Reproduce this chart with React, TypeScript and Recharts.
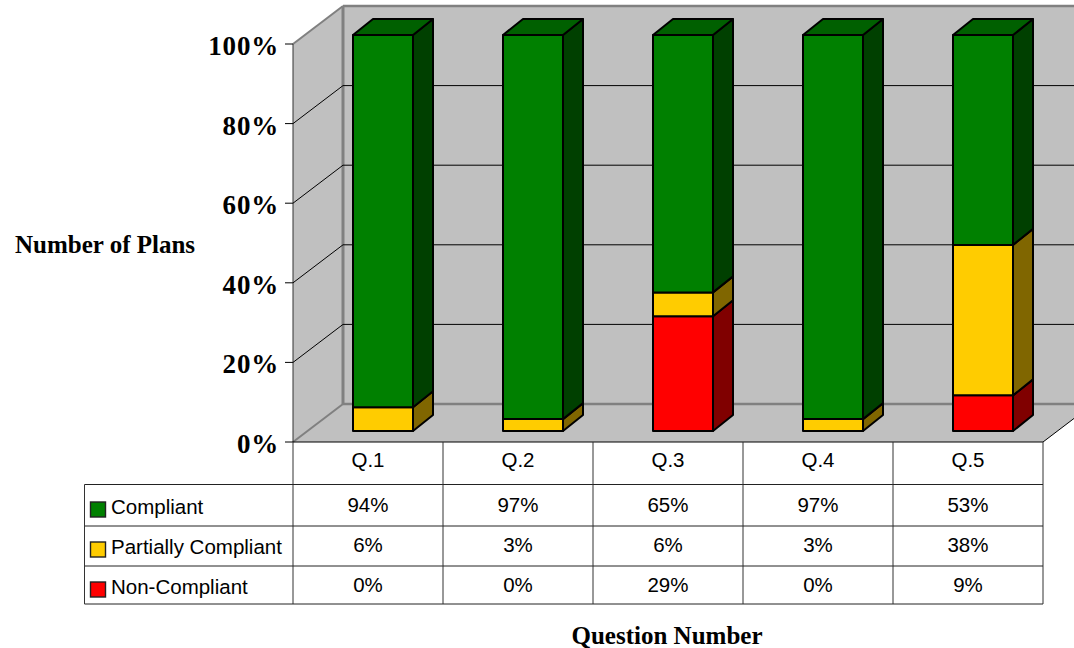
import React from "react";
import { BarChart, Bar, XAxis, YAxis, CartesianGrid } from "recharts";

const categories = ["Q.1", "Q.2", "Q.3", "Q.4", "Q.5"];
const compliant = [94, 97, 65, 97, 53];
const partial = [6, 3, 6, 3, 38];
const nonCompliant = [0, 0, 29, 0, 9];
const yTicks = [0, 20, 40, 60, 80, 100];

const rows = [
  { name: "Compliant", key: "compliant", values: compliant, color: "#008000", side: "#004000", top: "#006000" },
  { name: "Partially Compliant", key: "partial", values: partial, color: "#ffcc00", side: "#806600", top: "#bf9900" },
  { name: "Non-Compliant", key: "nonCompliant", values: nonCompliant, color: "#ff0000", side: "#800000", top: "#bf0000" },
];
const data = categories.map((q, i) => ({
  q,
  compliant: compliant[i],
  partial: partial[i],
  nonCompliant: nonCompliant[i],
}));

const W = 1074, H = 648;
const LEFT = 293, TOP = 44, PW = 750, PH = 398;
const DX = 50, DY = 38;
const BAR_DX = 15, BAR_BOTTOM = 431, BAR_SCALE = 396 / 398, BAR_DEPTH_X = 20, BAR_DEPTH_Y = 16;
const WALL = "#c0c0c0", EDGE = "#808080";
const SERIF = "'Liberation Serif', serif", SANS = "'Liberation Sans', sans-serif";

const GridLine = (p: any) => {
  const y = p.y1;
  const bottom = TOP + PH;
  const isFloor = Math.abs(y - bottom) < 1;
  const isTop = Math.abs(y - TOP) < 1;
  return (
    <g>
      {isFloor && (
        <g>
          <rect x={LEFT + DX} y={TOP - DY} width={W} height={PH} fill={WALL} />
          <polygon points={`${LEFT},${TOP} ${LEFT + DX},${TOP - DY} ${LEFT + DX},${bottom - DY} ${LEFT},${bottom}`} fill={WALL} />
          <polygon points={`${LEFT},${bottom} ${LEFT + DX},${bottom - DY} ${LEFT + PW + DX},${bottom - DY} ${LEFT + PW},${bottom}`} fill={WALL} />
          <line x1={LEFT + DX} y1={TOP - DY} x2={LEFT + DX} y2={bottom - DY} stroke={EDGE} strokeWidth={3} />
          <line x1={LEFT + DX} y1={TOP - DY} x2={W} y2={TOP - DY} stroke={EDGE} strokeWidth={2.5} />
          <line x1={LEFT + DX} y1={bottom - DY} x2={W} y2={bottom - DY} stroke={EDGE} strokeWidth={2.5} />
          <line x1={LEFT} y1={bottom} x2={LEFT + DX} y2={bottom - DY} stroke={EDGE} strokeWidth={2} />
          <line x1={LEFT} y1={TOP} x2={LEFT + DX} y2={TOP - DY} stroke={EDGE} strokeWidth={2} />
          <line x1={LEFT + PW} y1={bottom} x2={LEFT + PW + DX} y2={bottom - DY} stroke="#000" strokeWidth={1} />
          <line x1={LEFT} y1={TOP} x2={LEFT} y2={bottom} stroke="#333" strokeWidth={1} />
        </g>
      )}
      {!isFloor && !isTop && (
        <polyline points={`${LEFT},${y} ${LEFT + DX},${y - DY} ${W},${y - DY}`} fill="none" stroke="#000" strokeWidth={1} />
      )}
    </g>
  );
};

const Bar3D = (c: { color: string; side: string; top: string; hasTop: boolean }) => (p: any) => {
  if (!p.height || p.height <= 0) return <g />;
  const base = TOP + PH;
  const x = p.x + BAR_DX, w = p.width;
  const y = BAR_BOTTOM - (base - p.y) * BAR_SCALE;
  const b = BAR_BOTTOM - (base - (p.y + p.height)) * BAR_SCALE;
  const h = b - y;
  const r = x + w;
  const s = { stroke: "#000", strokeWidth: 2, strokeLinejoin: "round" as const };
  return (
    <g>
      <polygon points={`${r},${y} ${r + BAR_DEPTH_X},${y - BAR_DEPTH_Y} ${r + BAR_DEPTH_X},${b - BAR_DEPTH_Y} ${r},${b}`} fill={c.side} {...s} />
      {c.hasTop && (
        <polygon points={`${x},${y} ${x + BAR_DEPTH_X},${y - BAR_DEPTH_Y} ${r + BAR_DEPTH_X},${y - BAR_DEPTH_Y} ${r},${y}`} fill={c.top} {...s} />
      )}
      <rect x={x} y={y} width={w} height={h} fill={c.color} {...s} />
    </g>
  );
};

const HEAD_Y = 459, ROW_Y = [484.5, 526, 566, 604], ROW_TEXT = [504.5, 544.5, 584.5], TABLE_LEFT = 84.5, COL_W = 150;

const TableTick = (p: any) => {
  const { x, index, payload } = p;
  const left = x - COL_W / 2;
  return (
    <g fontFamily={SANS} fontSize={20.5} fill="#000">
      <line x1={left} y1={TOP + PH} x2={left} y2={ROW_Y[3]} stroke="#333" />
      {index === categories.length - 1 && <line x1={left + COL_W} y1={TOP + PH} x2={left + COL_W} y2={ROW_Y[3]} stroke="#333" />}
      {ROW_Y.map((ry) => (
        <line key={ry} x1={left} y1={ry} x2={left + COL_W} y2={ry} stroke="#222" />
      ))}
      <text x={x} y={HEAD_Y} textAnchor="middle" dominantBaseline="central">{payload.value}</text>
      {rows.map((row, i) => (
        <text key={row.key} x={x} y={ROW_TEXT[i]} textAnchor="middle" dominantBaseline="central">{row.values[index]}%</text>
      ))}
      {index === 0 && (
        <g>
          {ROW_Y.map((ry) => (
            <line key={ry} x1={TABLE_LEFT} y1={ry} x2={left} y2={ry} stroke="#222" />
          ))}
          <line x1={TABLE_LEFT} y1={ROW_Y[0]} x2={TABLE_LEFT} y2={ROW_Y[3]} stroke="#333" />
          {rows.map((row, i) => (
            <g key={row.key}>
              <rect x={90.5} y={ROW_TEXT[i] - 2.5} width={15} height={15} fill={row.color} stroke="#222" strokeWidth={1.4} />
              <text x={111} y={ROW_TEXT[i] + 1.5} dominantBaseline="central">{row.name}</text>
            </g>
          ))}
        </g>
      )}
    </g>
  );
};

const YTick = (p: any) => (
  <text x={p.x + 2} y={p.y + 2} textAnchor="end" dominantBaseline="central" fontFamily={SERIF} fontWeight="bold" fontSize={27} letterSpacing={0.8} fill="#000">
    {p.payload.value}%
  </text>
);

export default function App() {
  return (
    <div style={{ position: "absolute", left: 0, top: 0, width: W, height: H, overflow: "hidden" }}>
      <BarChart
        width={W}
        height={H}
        data={data}
        margin={{ top: TOP, left: 0, right: W - LEFT - PW, bottom: 0 }}
        barSize={60}
        barGap={0}
        style={{ overflow: "hidden" }}
      >
        <CartesianGrid vertical={false} horizontal={GridLine as any} />
        <XAxis
          dataKey="q"
          height={H - TOP - PH}
          tick={TableTick}
          tickLine={false}
          axisLine={{ stroke: "#000", strokeWidth: 1 }}
          interval={0}
          label={{ value: "Question Number", position: "insideBottom", offset: 4, dx: -1, fontFamily: SERIF, fontWeight: "bold", fontSize: 25, fill: "#000" }}
        />
        <YAxis
          width={LEFT}
          domain={[0, 100]}
          ticks={yTicks}
          tick={YTick}
          tickSize={8}
          tickMargin={8}
          tickLine={{ stroke: "#000" }}
          axisLine={false}
          label={{ value: "Number of Plans", position: "insideLeft", offset: 15, dy: 1, fontFamily: SERIF, fontWeight: "bold", fontSize: 25, fill: "#000" }}
        />
        {[...rows].reverse().map((row) => (
          <Bar
            key={row.key}
            dataKey={row.key}
            stackId="a"
            isAnimationActive={false}
            shape={Bar3D({ color: row.color, side: row.side, top: row.top, hasTop: row.key === "compliant" }) as any}
          />
        ))}
      </BarChart>
    </div>
  );
}
